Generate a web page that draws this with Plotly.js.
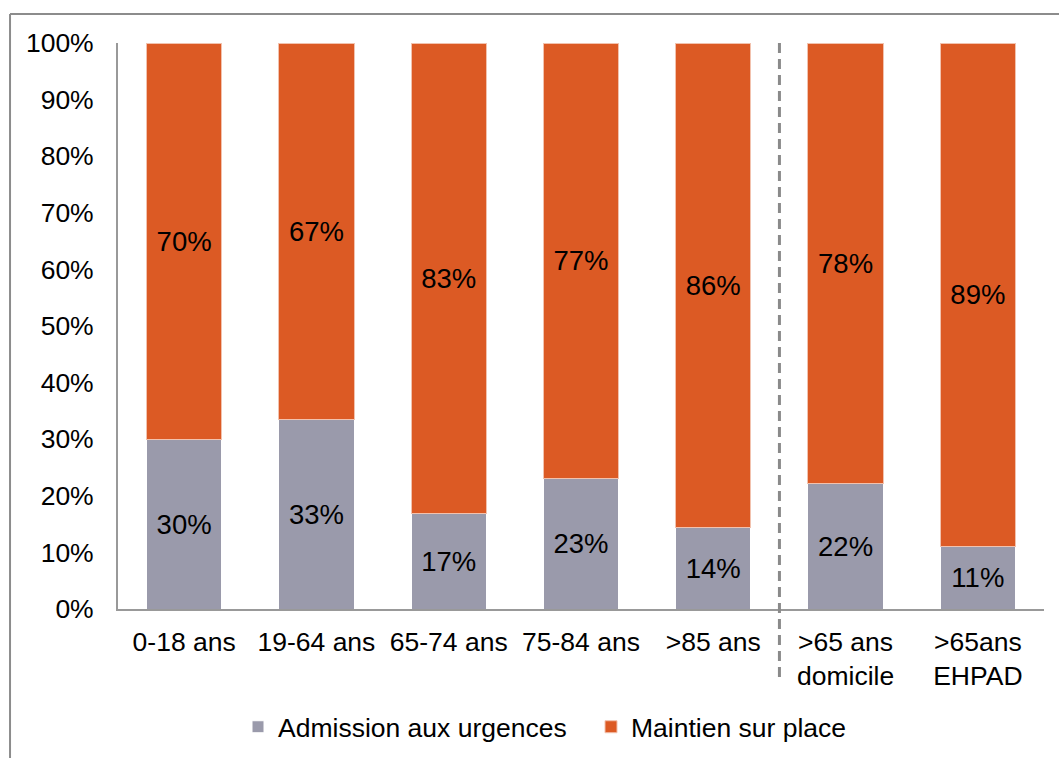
<!DOCTYPE html>
<html>
<head>
<meta charset="utf-8">
<script src="https://cdn.plot.ly/plotly-3.0.1.min.js"></script>
<style>html,body{margin:0;padding:0;background:#fff;}#chart{width:1059px;height:758px;}</style>
</head>
<body>
<div id="chart"></div>
<script>
const categories = ['0-18 ans', '19-64 ans', '65-74 ans', '75-84 ans', '>85 ans', '>65 ans<br>domicile', '>65ans<br>EHPAD'];
const admission = [30, 33.4, 16.8, 23.1, 14.4, 22.1, 11];
const maintien = [70, 66.6, 83.2, 76.9, 85.6, 77.9, 89];
const yTicks = [0, 10, 20, 30, 40, 50, 60, 70, 80, 90, 100];

const FONT = 'Liberation Sans, Arial, sans-serif';
const FS = 26.5;
const FS_BAR = 27.5;

const pct = v => Math.round(v) + '%';

const traces = [
  {
    type: 'bar', name: 'Admission aux urgences', x: categories, y: admission,
    text: admission.map(pct), textposition: 'inside', insidetextanchor: 'middle', textangle: 0,
    constraintext: 'none', textfont: {family: FONT, size: FS_BAR, color: '#000'},
    marker: {color: '#9A9AAB', line: {color: '#ffffff', width: 1}}, hoverinfo: 'skip'
  },
  {
    type: 'bar', name: 'Maintien sur place', x: categories, y: maintien,
    text: maintien.map(pct), textposition: 'inside', insidetextanchor: 'middle', textangle: 0,
    constraintext: 'none', textfont: {family: FONT, size: FS_BAR, color: '#000'},
    marker: {color: '#DC5A24', line: {color: '#F2C2AE', width: 1}}, hoverinfo: 'skip'
  }
];

const layout = {
  width: 1059, height: 758,
  margin: {l: 118, r: 15, t: 43, b: 149, pad: 0, autoexpand: false},
  paper_bgcolor: '#fff', plot_bgcolor: '#fff',
  barmode: 'stack', bargap: 0.43,
  font: {family: FONT, size: FS, color: '#000'},
  showlegend: true,
  legend: {orientation: 'h', x: 0.1296, xanchor: 'left', y: -0.2085, yanchor: 'middle',
           entrywidth: 308, entrywidthmode: 'pixels',
           font: {family: FONT, size: FS, color: '#000'}, traceorder: 'normal', itemclick: false},
  xaxis: {
    type: 'category', showgrid: false, zeroline: false,
    showline: true, linecolor: '#999', linewidth: 2,
    ticks: '', tickfont: {family: FONT, size: FS, color: '#000'}, ticklabelstandoff: 8,
    fixedrange: true, automargin: false
  },
  yaxis: {
    range: [0, 100], tickvals: yTicks, ticktext: yTicks.map(v => v + '%'),
    showgrid: false, zeroline: false, showline: true, linecolor: '#999', linewidth: 2,
    ticks: '', tickfont: {family: FONT, size: FS, color: '#000'}, ticklabelstandoff: 17,
    fixedrange: true, automargin: false
  },
  shapes: [
    {type: 'line', xref: 'x', yref: 'paper', x0: 4.5, x1: 4.5, y0: 1, y1: -0.12,
     line: {color: '#8a8a8a', width: 3, dash: '10px,6px'}},
    {type: 'line', xref: 'paper', yref: 'paper', x0: -0.1166, x1: -0.1166, y0: 1.0512, y1: -0.3,
     line: {color: '#8c8c8c', width: 2}},
    {type: 'line', xref: 'paper', yref: 'paper', x0: -0.1166, x1: 1.05, y0: 1.0512, y1: 1.0512,
     line: {color: '#8c8c8c', width: 2}}
  ]
};

Plotly.newPlot('chart', traces, layout, {displayModeBar: false, staticPlot: true});
</script>
</body>
</html>
